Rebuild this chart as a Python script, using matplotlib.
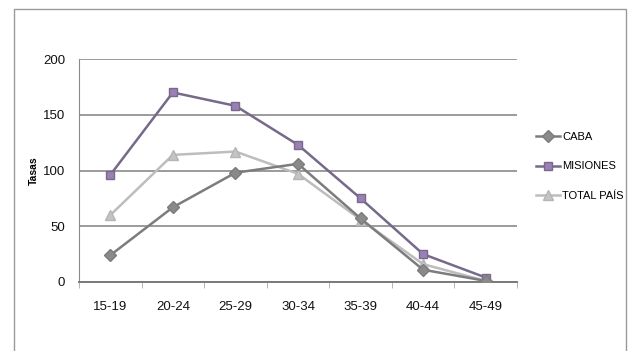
import matplotlib
matplotlib.use("Agg")
import matplotlib.pyplot as plt
from matplotlib.patches import Rectangle
import numpy as np

# %% Datos

grupos = ["15-19", "20-24", "25-29", "30-34", "35-39", "40-44", "45-49"]
caba = [24, 67, 98, 106, 57, 11, 1]
misiones = [96, 170, 158, 123, 75, 25, 4]
total_pais = [60, 114, 117, 97, 56, 16, 1]

# %% Grafico

plt.rcParams["font.family"] = ["Liberation Sans", "DejaVu Sans"]

fig = plt.figure(figsize=(6.31, 3.51), dpi=100)
fig.patch.set_facecolor("white")

# marco del area del grafico
fig.patches.append(Rectangle((14 / 631, -0.05), (626 - 14) / 631, 1 - 9 / 351 + 0.05,
                             transform=fig.transFigure, fill=False,
                             edgecolor="#9a9a9a", linewidth=1.0))

ax = fig.add_axes([79 / 631, 1 - 282 / 351, (517 - 79) / 631, (282 - 59) / 351])
x = np.arange(len(grupos))

ax.plot(x, caba, color="#7c7c7c", marker="D", markersize=6,
        markerfacecolor="#8a8a8a", markeredgecolor="#7c7c7c", linewidth=1.8,
        label="CABA", zorder=4)
ax.plot(x, misiones, color="#77698a", marker="s", markersize=6,
        markerfacecolor="#9a80b4", markeredgecolor="#77698a", linewidth=1.8,
        label="MISIONES", zorder=3)
ax.plot(x, total_pais, color="#bdbdbd", marker="^", markersize=7,
        markerfacecolor="#c4c4c4", markeredgecolor="#b5b5b5", linewidth=1.8,
        label="TOTAL PAÍS", zorder=2)

ax.set_xlim(-0.5, len(grupos) - 0.5)
ax.set_ylim(0, 200)
ax.set_yticks([0, 50, 100, 150, 200])
ax.set_xticks(x)
ax.set_xticklabels(grupos)
ax.set_xticks(np.arange(-0.5, len(grupos)), minor=True)
ax.tick_params(axis="x", which="major", length=0, pad=14, labelsize=9.5, colors="#111111")
ax.tick_params(axis="x", which="minor", length=4, color="#aaaaaa")
ax.tick_params(axis="y", length=0, pad=10, labelsize=9.5, colors="#111111")

ax.grid(axis="y", color="#8a8a8a", linewidth=1.2)
ax.set_axisbelow(True)
for s in ["top", "right"]:
    ax.spines[s].set_visible(False)
ax.spines["left"].set_color("#8a8a8a")
ax.spines["bottom"].set_color("#7a7a7a")
ax.spines["bottom"].set_linewidth(1.4)

ax.set_ylabel("Tasas", fontsize=7.5, fontweight="bold", labelpad=3)

ax.legend(loc="upper left", bbox_to_anchor=(526 / 631, 1 - 122 / 351),
          bbox_transform=fig.transFigure, frameon=False, fontsize=8,
          handlelength=2.2, handletextpad=0.15, labelspacing=1.75)

plt.savefig("out.png", dpi=100)
